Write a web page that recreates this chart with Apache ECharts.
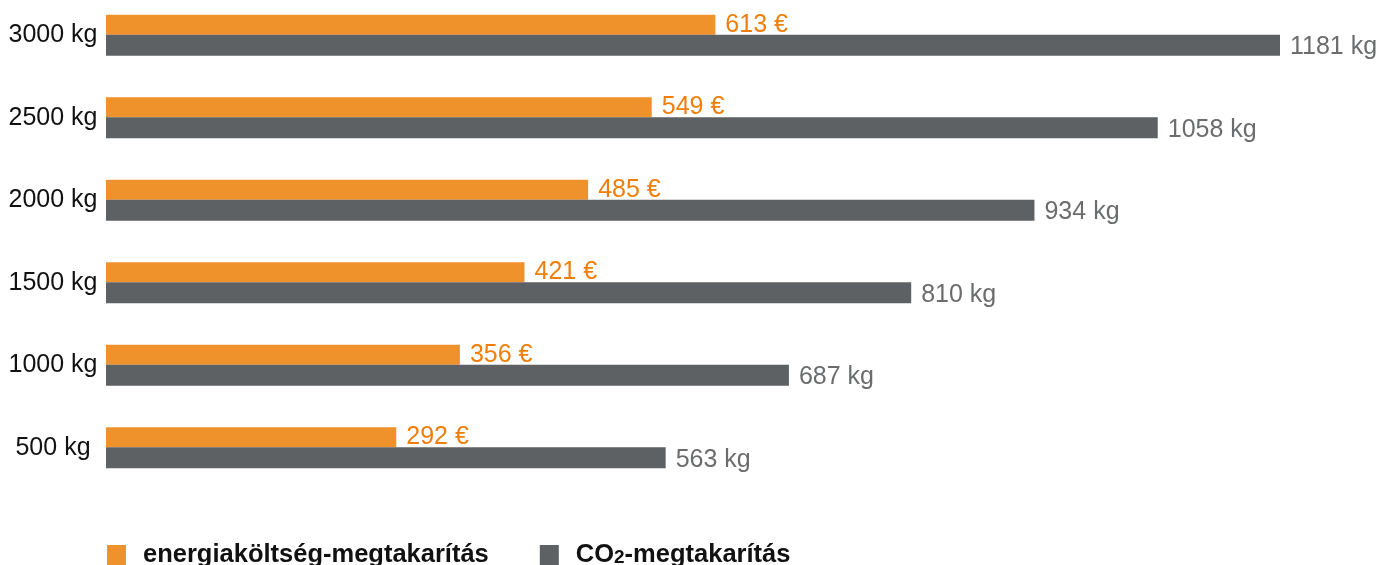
<!DOCTYPE html>
<html>
<head>
<meta charset="utf-8">
<script src="https://cdn.jsdelivr.net/npm/echarts@6/dist/echarts.min.js"></script>
<style>
html, body { margin: 0; padding: 0; background: #fff; overflow: hidden; }
/* a rács nem kezdődhet negatív top-pal, ezért az egész div-et toljuk feljebb */
#chart { position: absolute; left: 0; top: -6px; width: 1390px; height: 571px; }
</style>
</head>
<body>
<div id="chart"></div>
<script>
// kategóriák alulról felfelé
var categories = ['500 kg', '1000 kg', '1500 kg', '2000 kg', '2500 kg', '3000 kg'];
var energyValues = [292, 356, 421, 485, 549, 613];   // €
var co2Values = [563, 687, 810, 934, 1058, 1181];     // kg
var seriesNames = ['energiaköltség-megtakarítás', 'CO2-megtakarítás'];

var chart = echarts.init(document.getElementById('chart'));
var font = 'Arial, "Liberation Sans", Helvetica, sans-serif';

chart.setOption({
	animation: false,
	textStyle: { fontFamily: font },
	grid: { left: 106, right: 41.4, top: 0, bottom: 76, containLabel: false },
	legend: {
		left: 102,
		top: 543,
		itemWidth: 19,
		itemHeight: 20,
		itemGap: 51,
		icon: 'rect',
		data: seriesNames,
		formatter: function (name) {
			if (name === seriesNames[1]) return 'CO{s|2}-megtakarítás';
			return name;
		},
		textStyle: {
			fontFamily: font, fontSize: 25.5, fontWeight: 'bold', color: '#111', padding: [0, 0, 0, 12],
			rich: {
				s: { fontFamily: font, fontSize: 19, fontWeight: 'bold', color: '#111', padding: [6, 0, 0, 0] }
			}
		}
	},
	xAxis: {
		type: 'value',
		min: 0,
		max: 1250,
		show: false
	},
	yAxis: {
		type: 'category',
		data: categories,
		axisLine: { show: false },
		axisTick: { show: false },
		splitLine: { show: false },
		axisLabel: {
			align: 'center',
			margin: 53,
			fontSize: 25,
			color: '#111',
			fontFamily: font
		}
	},
	series: [
		{
			name: seriesNames[0],
			type: 'bar',
			data: energyValues,
			barWidth: 20,
			barGap: '0%',
			itemStyle: { color: '#f0922b' },
			label: {
				show: true,
				position: 'right',
				distance: 10,
				fontSize: 25,
				color: '#ef7f0a',
				fontFamily: font,
				formatter: function (p) { return p.value + ' €'; }
			}
		},
		{
			name: seriesNames[1],
			type: 'bar',
			data: co2Values,
			barWidth: 21,
			itemStyle: { color: '#5e6164' },
			label: {
				show: true,
				position: 'right',
				distance: 10,
				offset: [0, 2],
				fontSize: 25,
				color: '#6b6c6e',
				fontFamily: font,
				formatter: function (p) { return p.value + ' kg'; }
			}
		}
	]
});
</script>
</body>
</html>
